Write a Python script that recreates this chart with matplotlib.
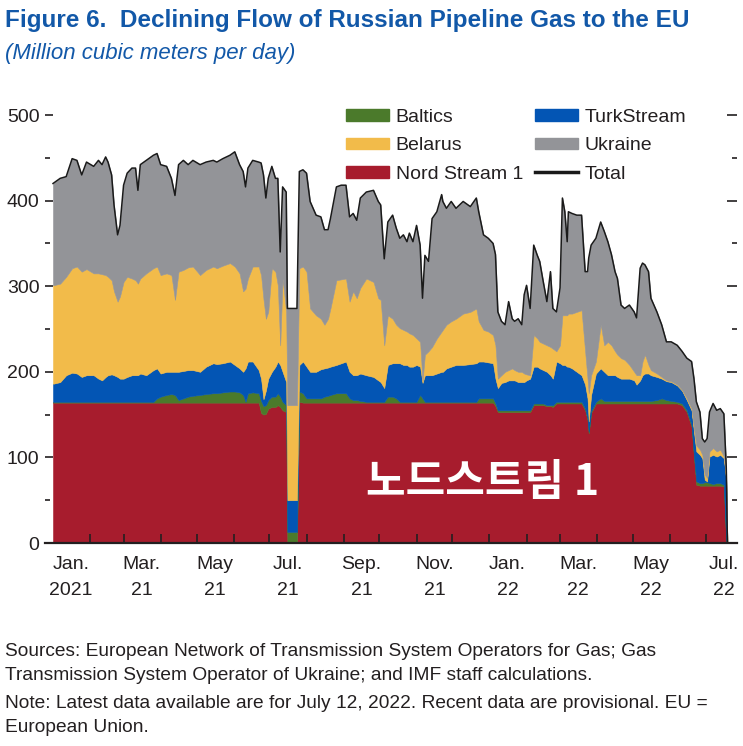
import matplotlib
matplotlib.use("Agg")
import matplotlib.pyplot as plt
from matplotlib.patches import Patch
from matplotlib.lines import Line2D
import numpy as np
import pandas as pd

# x values: days after 1 Jan 2021
day = [0, 6, 11, 16, 20, 24, 28, 34, 38, 41,
       44, 46, 49, 51, 54, 56, 59, 62, 66, 69,
       71, 73, 78, 84, 87, 90, 95, 99, 102, 105,
       109, 113, 117, 123, 128, 134, 137, 142, 148, 152,
       156, 159, 161, 163, 167, 172, 174, 176, 178, 180,
       183, 186, 188, 190, 192, 195, 196, 204, 206, 209,
       212, 215, 220, 224, 227, 230, 232, 237, 241, 245,
       248, 251, 254, 257, 262, 268, 272, 274, 277, 280,
       284, 287, 290, 293, 296, 298, 301, 304, 307, 309,
       311, 314, 317, 321, 325, 326, 329, 333, 337, 343,
       349, 354, 356, 360, 364, 368, 370, 372, 375, 378,
       381, 384, 386, 389, 392, 394, 396, 399, 402, 405,
       407, 410, 413, 416, 418, 421, 424, 426, 428, 430,
       431, 434, 438, 442, 445, 447, 448, 450, 454, 458,
       461, 464, 467, 470, 472, 475, 478, 482, 486, 488,
       491, 493, 495, 498, 500, 505, 509, 513, 517, 522,
       526, 530, 534, 536, 538, 541, 543, 545, 547, 549,
       552, 555, 558, 561, 563, 564]

nord_stream = [164, 164, 164, 164, 164, 164, 164, 164, 164, 164,
               164, 164, 164, 164, 164, 164, 164, 164, 164, 164,
               164, 164, 164, 164, 164, 164, 164, 164, 164, 164,
               164, 164, 164, 164, 164, 164, 164, 164, 164, 164,
               164, 164, 164, 164, 164, 164, 152, 150, 151, 157,
               159, 159, 161, 159, 155, 153, 0, 0, 165, 164,
               164, 164, 164, 164, 164, 164, 164, 164, 164, 164,
               164, 164, 164, 164, 164, 164, 164, 164, 164, 164,
               164, 164, 164, 164, 164, 164, 164, 164, 164, 164,
               164, 164, 164, 164, 164, 164, 164, 164, 164, 164,
               164, 164, 164, 164, 164, 164, 160, 153, 153, 153,
               153, 153, 153, 153, 153, 153, 153, 153, 161, 161,
               161, 161, 160, 160, 159, 163, 163, 163, 163, 163,
               163, 163, 163, 163, 155, 144, 128, 152, 163, 163,
               163, 163, 163, 163, 163, 163, 163, 163, 163, 163,
               163, 163, 163, 163, 163, 163, 163, 163, 163, 163,
               161, 153, 136, 101, 68, 67, 67, 67, 67, 67,
               67, 67, 67, 66, 3, 0]

baltics = [1, 1, 1, 1, 1, 1, 1, 1, 1, 1,
           1, 1, 1, 1, 1, 1, 1, 1, 1, 1,
           1, 1, 1, 1, 5, 7, 9, 10, 9, 3,
           5, 7, 8, 9, 10, 11, 11, 12, 13, 13,
           12, 9, 1, 11, 12, 11, 14, 10, 10, 10,
           12, 12, 14, 12, 10, 8, 13, 13, 12, 11,
           5, 5, 5, 5, 7, 8, 9, 11, 11, 11,
           5, 3, 3, 2, 1, 1, 1, 1, 1, 7,
           7, 5, 1, 1, 1, 1, 1, 1, 9, 5,
           1, 1, 1, 1, 1, 1, 1, 1, 1, 1,
           1, 1, 5, 5, 5, 5, 3, 2, 2, 2,
           2, 2, 2, 2, 2, 2, 2, 2, 2, 2,
           2, 2, 1, 1, 2, 2, 2, 2, 2, 2,
           2, 2, 2, 2, 2, 2, 2, 2, 2, 6,
           3, 3, 3, 3, 3, 3, 3, 3, 3, 3,
           3, 3, 3, 3, 3, 4, 6, 4, 3, 2,
           2, 2, 2, 2, 4, 3, 3, 4, 4, 3,
           2, 3, 3, 2, 0, 0]

turkstream = [21, 23, 31, 34, 33, 29, 31, 31, 27, 25,
              29, 31, 32, 31, 29, 27, 27, 29, 31, 31,
              31, 33, 31, 37, 35, 27, 27, 26, 27, 33,
              32, 31, 30, 27, 32, 35, 34, 34, 35, 31,
              28, 27, 39, 37, 36, 27, 26, 8, 17, 25,
              29, 35, 37, 37, 35, 27, 37, 37, 31, 37,
              37, 31, 31, 34, 33, 33, 33, 33, 35, 37,
              31, 29, 29, 32, 31, 29, 25, 23, 16, 37,
              39, 41, 45, 43, 43, 41, 41, 43, 33, 18,
              31, 31, 31, 33, 35, 35, 39, 41, 43, 43,
              44, 45, 43, 43, 42, 41, 29, 26, 32, 33,
              35, 35, 35, 33, 33, 33, 35, 37, 43, 43,
              41, 39, 39, 35, 31, 47, 45, 43, 43, 41,
              41, 39, 35, 31, 28, 23, 12, 19, 33, 35,
              34, 30, 30, 30, 28, 26, 26, 26, 24, 19,
              24, 30, 32, 32, 30, 27, 23, 22, 22, 19,
              15, 12, 17, 27, 35, 33, 29, 3, 1, 31,
              34, 31, 33, 31, 70, 0]

belarus = [115, 115, 115, 122, 125, 123, 124, 119, 123, 124,
           119, 115, 110, 98, 88, 96, 113, 117, 113, 111,
           107, 111, 119, 119, 119, 115, 115, 113, 84, 117,
           118, 120, 121, 113, 113, 113, 112, 114, 115, 115,
           111, 94, 93, 97, 111, 121, 121, 117, 84, 78,
           121, 111, 89, 23, 109, 82, 111, 111, 113, 111,
           111, 74, 66, 59, 51, 57, 68, 99, 98, 97,
           82, 98, 90, 100, 113, 111, 96, 96, 50, 58,
           52, 45, 41, 41, 39, 39, 37, 31, 29, 2,
           24, 28, 33, 41, 47, 49, 51, 53, 54, 60,
           61, 64, 47, 37, 36, 33, 39, 11, 9, 12,
           12, 14, 12, 12, 12, 10, 7, 4, 37, 33,
           31, 31, 31, 33, 35, 12, 21, 58, 58, 60,
           62, 64, 70, 76, 39, 23, 33, 23, 14, 51,
           31, 39, 35, 28, 26, 24, 22, 16, 10, 11,
           6, 16, 22, 10, 6, 4, 2, 1, 1, 1,
           1, 2, 2, 4, 7, 6, 4, 6, 4, 6,
           8, 6, 6, 2, 1, 0]

ukraine = [119, 123, 117, 128, 124, 113, 125, 125, 132, 128,
           138, 134, 123, 101, 78, 83, 113, 121, 129, 131,
           109, 133, 132, 132, 132, 129, 125, 113, 122, 125,
           128, 120, 124, 129, 126, 124, 124, 125, 126, 134,
           127, 140, 119, 129, 124, 122, 131, 145, 141, 156,
           119, 109, 125, 109, 107, 140, 113, 113, 113, 113,
           115, 125, 117, 119, 111, 104, 105, 109, 110, 109,
           99, 91, 91, 105, 101, 107, 113, 111, 101, 109,
           121, 113, 105, 111, 105, 117, 109, 132, 113, 97,
           116, 105, 150, 148, 160, 150, 136, 140, 129, 131,
           123, 129, 128, 111, 109, 107, 106, 78, 63, 55,
           80, 58, 57, 62, 55, 92, 104, 78, 105, 97,
           94, 72, 51, 88, 47, 46, 67, 137, 121, 86,
           119, 117, 113, 111, 93, 125, 158, 152, 144, 120,
           133, 117, 106, 93, 89, 62, 60, 70, 70, 67,
           125, 115, 105, 109, 84, 72, 61, 45, 46, 46,
           45, 47, 55, 58, 51, 44, 19, 38, 46, 46,
           52, 48, 48, 50, 15, 0]

legend_names = ["Baltics", "Belarus", "Nord Stream 1", "TurkStream", "Ukraine"]
month_labels = ["Jan.\n2021", "Mar.\n21", "May\n21", "Jul.\n21", "Sep.\n21",
                "Nov.\n21", "Jan.\n22", "Mar.\n22", "May\n22", "Jul.\n22"]

RED = "#a71c2d"
GREEN = "#4b7a2b"
BLUE = "#0355b4"
YELLOW = "#f2bb4a"
GRAY = "#939498"
TITLE_BLUE = "#1258a8"
TEXT = "#231f20"

plt.rcParams['font.family'] = ['Liberation Sans', 'DejaVu Sans']

start = pd.Timestamp("2021-01-01")
month_starts = (pd.date_range("2021-02-01", "2022-07-01", freq="MS") - start).days
label_pos = (pd.date_range("2021-01-01", "2022-07-01", freq="2MS") - start).days + 15

total = (np.array(nord_stream) + np.array(baltics) + np.array(turkstream)
         + np.array(belarus) + np.array(ukraine))

fig = plt.figure(figsize=(7.43, 7.46), dpi=100)
ax = fig.add_axes([45 / 743, 1 - 543 / 746, 692 / 743, 428 / 746])

polys = ax.stackplot(day, nord_stream, baltics, turkstream, belarus, ukraine,
                     colors=[RED, GREEN, BLUE, YELLOW, GRAY])
for p in polys:
    p.set_edgecolor("face")
    p.set_linewidth(0.4)
ax.plot(day, total, color="#1a1a1a", lw=1.1)

ax.set_xlim(-6.7, 572)
ax.set_ylim(0, 500)
for s in ["left", "top", "right"]:
    ax.spines[s].set_visible(False)
ax.spines["bottom"].set_linewidth(1.6)
ax.spines["bottom"].set_color(TEXT)

ax.set_yticks(range(0, 501, 100))
ax.set_yticks(range(50, 500, 100), minor=True)
ax.tick_params(axis="y", which="major", direction="in", length=6, width=1.2,
               labelsize=14, pad=4, colors=TEXT)
ax.tick_params(axis="y", which="minor", direction="in", length=3.5, width=1.2,
               colors=TEXT)

ax.set_xticks(month_starts)
ax.set_xticklabels([])
ax.set_xticks(label_pos, minor=True)
ax.set_xticklabels(month_labels, minor=True, linespacing=1.7)
ax.tick_params(axis="x", which="major", direction="in", length=6.5, width=1.2,
               colors=TEXT)
ax.tick_params(axis="x", which="minor", length=0, labelsize=14, pad=9.5,
               colors=TEXT)

sec = ax.secondary_yaxis("right")
sec.set_yticks(range(0, 501, 100))
sec.set_yticks(range(50, 500, 100), minor=True)
sec.tick_params(which="major", direction="in", length=7, width=1.2,
                labelright=False, colors=TEXT)
sec.tick_params(which="minor", direction="in", length=3.6, width=1.2,
                colors=TEXT)
for s in sec.spines.values():
    s.set_visible(False)

ax.text(0.632, 0.143, "노드스트림 1", transform=ax.transAxes, ha="center",
        va="center", color="white", fontsize=31, fontweight="bold",
        family=["Noto Sans CJK KR", "DejaVu Sans"])

handles = [Patch(color=GREEN), Patch(color=YELLOW), Patch(color=RED),
           Patch(color=BLUE), Patch(color=GRAY),
           Line2D([], [], color="#1a1a1a", lw=2.5)]
fig.legend(handles, legend_names + ["Total"], ncol=2, frameon=False,
           loc="upper left", bbox_to_anchor=(346 / 743, 1 - 109 / 746),
           borderpad=0, borderaxespad=0, fontsize=14, handlelength=2.2,
           handleheight=0.55, handletextpad=0.36, columnspacing=0.62,
           labelspacing=0.58, labelcolor=TEXT)

fig.text(5 / 743, 1 - 21 / 746, "Figure 6.  Declining Flow of Russian Pipeline Gas to the EU",
         color=TITLE_BLUE, fontsize=17.5, fontweight="bold", va="center")
fig.text(5 / 743, 1 - 53 / 746, "(Million cubic meters per day)",
         color=TITLE_BLUE, fontsize=16, style="italic", va="center")

notes = ["Sources: European Network of Transmission System Operators for Gas; Gas",
         "Transmission System Operator of Ukraine; and IMF staff calculations.",
         "Note: Latest data available are for July 12, 2022. Recent data are provisional. EU =",
         "European Union."]
for line, yy in zip(notes, [651, 675, 703, 727]):
    fig.text(5 / 743, 1 - yy / 746, line, color=TEXT, fontsize=13.8, va="center")

fig.savefig("out.png", dpi=100)
